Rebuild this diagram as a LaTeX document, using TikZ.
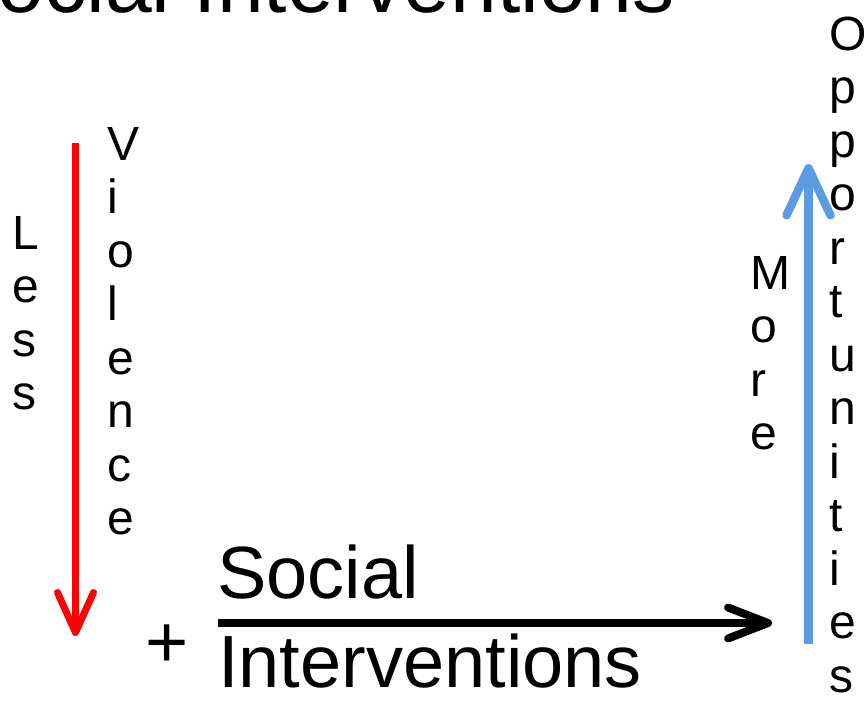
\documentclass[tikz,border=0pt]{standalone}
\usepackage{fontspec}
\setmainfont{Liberation Sans}
\usetikzlibrary{arrows.meta}
\definecolor{violencecolor}{RGB}{255,0,0}
\definecolor{opportcolor}{RGB}{91,155,226}

\begin{document}
\begin{tikzpicture}[
    x=1pt, y=-1pt,
    every node/.style={inner sep=0pt},
    stack/.style={align=left, anchor=base west, font=\fontsize{48}{53.5}\selectfont},
    big/.style={font=\fontsize{74}{89}\selectfont}
]
    \useasboundingbox (0,0) rectangle (864,701);
    \clip (0,0) rectangle (864,701);

    % Title, cut off at the top
    \node[font=\fontsize{84}{100}\selectfont, anchor=base east] (title) at (675,13) {Social Interventions};

    % Less violence (stacks sit on their last line)
    \coordinate (vtop) at (75.5,143);
    \coordinate (vbot) at (75.5,636);
    \draw[line width=7pt, violencecolor, -{Straight Barb[length=40pt, width=36pt, round]}] (vtop) -- (vbot);
    \node[stack] (less) at (12,409.5) {L\\e\\s\\s};
    \node[stack] (violence) at (107,534.5) {V\\i\\o\\l\\e\\n\\c\\e};

    % Social interventions
    \node[big, anchor=base west] (plus) at (145,667) {+};
    \node[big, anchor=base west] (social) at (217,598) {Social};
    \node[big, anchor=base west] (interv) at (218,687) {Interventions};
    \coordinate (sstart) at (218,623);
    \coordinate (send) at (772,623);
    \draw[line width=8pt, -{Straight Barb[length=40pt, width=31pt, round]}] (sstart) -- (send);

    % More opportunities
    \coordinate (obot) at (808.5,644);
    \coordinate (otop) at (808.5,164);
    \draw[line width=8.5pt, opportcolor, -{Straight Barb[length=47pt, width=44pt, round]}] (obot) -- (otop);
    \node[stack] (more) at (750,449.5) {M\\o\\r\\e};
    \node[stack] (opport) at (829,692) {O\\p\\p\\o\\r\\t\\u\\n\\i\\t\\i\\e\\s};
\end{tikzpicture}
\end{document}
